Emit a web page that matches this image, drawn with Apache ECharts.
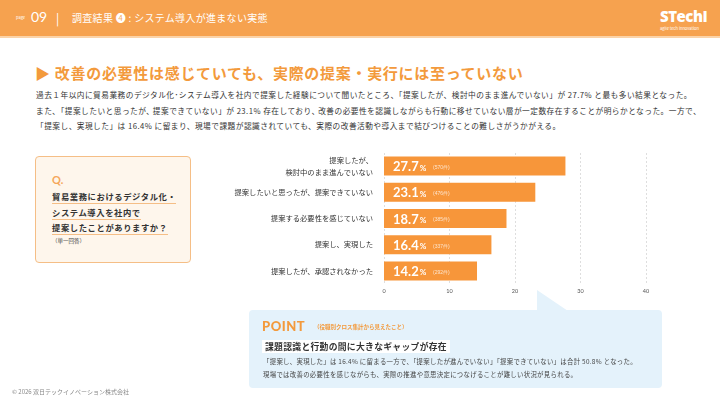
<!DOCTYPE html>
<html><head><meta charset="utf-8">
<script src="https://cdn.jsdelivr.net/npm/echarts@6/dist/echarts.min.js"></script>
<style>
html,body{margin:0;padding:0;width:720px;height:405px;overflow:hidden;background:#fff;font-family:"Noto Sans CJK JP","Noto Sans",sans-serif;}
.abs{position:absolute;white-space:nowrap;}
#chart{position:absolute;left:0;top:0;width:720px;height:405px;}
</style></head><body>
<div class="abs" style="left:0;top:0;width:720px;height:36px;background:#F6A24F;"></div>
<div class="abs" style="left:0;top:36px;width:720px;height:2px;background:#FBD3A8;"></div>
<div class="abs" style="left:16px;top:14px;font-size:4px;color:#fff;">page</div>
<div class="abs" style="left:31px;top:8px;font-size:14px;color:#fff;font-family:Lato,sans-serif;">09</div>
<div class="abs" style="left:56px;top:9px;font-size:12px;color:#fff;">|</div>
<div class="abs" style="left:72px;top:10px;font-size:10px;color:#fff;letter-spacing:0.3px;">調査結果 ❹ : システム導入が進まない実態</div>
<div class="abs" style="left:660px;top:6px;font-size:15px;font-weight:900;color:#fff;font-family:'Open Sans',sans-serif;letter-spacing:-0.5px;">STechI</div>
<div class="abs" style="left:660px;top:25px;font-size:4px;color:#fff;">agile tech innovation</div>

<div class="abs" style="left:35px;top:62px;font-size:15px;font-weight:bold;color:#F39A3C;letter-spacing:0.7px;">▶ 改善の必要性は感じていても、実際の提案・実行には至っていない</div>

<div class="abs" style="left:36px;top:87px;font-size:7.7px;color:#333;letter-spacing:0.47px;line-height:15.5px;">過去１年以内に貿易業務のデジタル化･システム導入を社内で提案した経験について聞いたところ、「提案したが、検討中のまま進んでいない」が 27.7% と最も多い結果となった。<br>また､「提案したいと思ったが､ 提案できていない」が 23.1% 存在しており､ 改善の必要性を認識しながらも行動に移せていない層が一定数存在することが明らかとなった。一方で、<br>「提案し、実現した」は 16.4% に留まり、現場で課題が認識されていても、実際の改善活動や導入まで結びつけることの難しさがうかがえる。</div>

<div class="abs" style="left:35px;top:156px;width:154px;height:105px;background:#FEF6EC;border:1px solid #F5BE86;border-radius:4px;"></div>
<div class="abs" style="left:52px;top:173px;font-size:11px;font-weight:bold;color:#F5A75A;font-family:Lato,sans-serif;">Q.</div>
<div class="abs" style="left:52px;top:190px;font-size:8.3px;font-weight:bold;color:#333;letter-spacing:0.6px;border-bottom:1px solid #F5BE86;line-height:13px;">貿易業務におけるデジタル化・</div>
<div class="abs" style="left:52px;top:206px;font-size:8.3px;font-weight:bold;color:#333;letter-spacing:0.6px;border-bottom:1px solid #F5BE86;line-height:13px;">システム導入を社内で</div>
<div class="abs" style="left:52px;top:221px;font-size:8.3px;font-weight:bold;color:#333;letter-spacing:0.6px;border-bottom:1px solid #F5BE86;line-height:13px;">提案したことがありますか？</div>
<div class="abs" style="left:52px;top:237px;font-size:5.5px;color:#444;">（単一回答）</div>

<div id="chart"></div>

<svg class="abs" style="left:0;top:0;" width="720" height="405">
<rect x="249" y="310" width="413" height="78" rx="4" fill="#E4F2FB"/>
<polygon points="537,290 537,311 568,311" fill="#E4F2FB"/>
</svg>
<div class="abs" style="left:262px;top:318px;font-size:13px;font-weight:900;color:#F39A3C;font-family:Lato,sans-serif;letter-spacing:0.5px;">POINT</div>
<div class="abs" style="left:314px;top:323px;font-size:5.5px;color:#F39A3C;font-weight:bold;">（役職別クロス集計から見えたこと）</div>
<div class="abs" style="left:262px;top:340px;height:13px;background:#fff;padding:0 3px;font-size:8.8px;font-weight:bold;color:#333;line-height:13px;letter-spacing:0.3px;">課題認識と行動の間に大きなギャップが存在</div>
<div class="abs" style="left:263px;top:356px;font-size:6.4px;color:#444;line-height:12.5px;letter-spacing:0.3px;">「提案し、実現した」は 16.4% に留まる一方で、「提案したが進んでいない」「提案できていない」は合計 50.8% となった。<br>現場では改善の必要性を感じながらも、実際の推進や意思決定につなげることが難しい状況が見られる。</div>

<div class="abs" style="left:12px;top:387px;font-size:6px;color:#888;">© 2026 双日テックイノベーション株式会社</div>

<script>
const categories = ["提案したが、\n検討中のまま進んでいない","提案したいと思ったが、提案できていない","提案する必要性を感じていない","提案し、実現した","提案したが、承認されなかった"];
const percentValues = [27.7, 23.1, 18.7, 16.4, 14.2];
const counts = [570, 476, 385, 337, 292];
const xTicks = [0, 10, 20, 30, 40];

const chart = echarts.init(document.getElementById('chart'), null, {renderer:'canvas'});
chart.setOption({
  animation:false,
  grid:{left:384, right:74, top:153, bottom:121, containLabel:false},
  xAxis:{type:'value', min:xTicks[0], max:xTicks[xTicks.length-1], interval:10,
    axisLine:{show:false}, axisTick:{show:false},
    axisLabel:{fontSize:5.5, color:'#555', margin:4, fontFamily:'Lato'},
    splitLine:{show:true, lineStyle:{type:[2,2], color:'#d6d6d6', width:0.8}}},
  yAxis:{type:'category', data:categories, inverse:true,
    axisLine:{show:false}, axisTick:{show:false},
    axisLabel:{fontSize:7.3, color:'#333', margin:11, lineHeight:12, align:'right', fontFamily:'Noto Sans CJK JP'}},
  series:[{type:'bar', data:percentValues, barWidth:19, itemStyle:{color:'#F7963A'},
    label:{show:true, position:'insideLeft', offset:[4,1],
      formatter:function(p){return '{v|'+p.value.toFixed(1)+'}{p|%}{c|  ('+counts[p.dataIndex]+'件)}';},
      rich:{v:{fontSize:13,fontWeight:'bold',color:'#fff',fontFamily:'Lato'},
            p:{fontSize:8,fontWeight:'bold',color:'#fff',fontFamily:'Lato',padding:[2,0,0,1]},
            c:{fontSize:5,color:'rgba(255,255,255,0.75)',padding:[1,0,0,4]}}}}]
});
</script>
</body></html>
